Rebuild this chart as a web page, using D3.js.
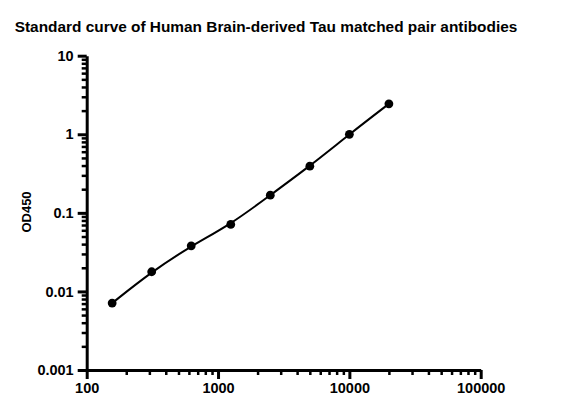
<!DOCTYPE html>
<html>
<head>
<meta charset="utf-8">
<script src="https://d3js.org/d3.v7.min.js"></script>
<style>
  body { margin:0; background:#fff; }
  svg text { font-family: "Liberation Sans", Arial, sans-serif; font-weight:bold; fill:#000; }
</style>
</head>
<body>
<div id="chart"></div>
<script>
var title = "Standard curve of Human Brain-derived Tau matched pair antibodies";
var concentrations = [156.25, 312.5, 625, 1250, 2500, 5000, 10000, 20000];
var od450 = [0.0071, 0.0178, 0.038, 0.0713, 0.168, 0.393, 1.0, 2.44];
var xTickValues = [100, 1000, 10000, 100000];
var yTickValues = [0.001, 0.01, 0.1, 1, 10];
var yLabel = "OD450";

var W = 566, H = 413;
var svg = d3.select("#chart").append("svg").attr("width", W).attr("height", H);

var x = d3.scaleLog().domain([100, 100000]).range([86.7, 480.7]);
var y = d3.scaleLog().domain([0.001, 10]).range([370, 55.7]);

function minors(lo, hi){
    var m = [];
    for (var d = lo; d < hi; d *= 10) {
        for (var k = 2; k <= 9; k++) m.push(d * k);
    }
    return m;
}

// minor ticks
svg.append("g").attr("transform", "translate(0,370)")
    .call(d3.axisBottom(x).tickValues(minors(100, 100000)).tickSize(5).tickFormat(""))
    .call(function(g){ g.select(".domain").remove(); g.selectAll("line").attr("stroke-width", 2.5); });
svg.append("g").attr("transform", "translate(86.7,0)")
    .call(d3.axisLeft(y).tickValues(minors(0.001, 10)).tickSize(5).tickFormat(""))
    .call(function(g){ g.select(".domain").remove(); g.selectAll("line").attr("stroke-width", 2.5); });

// major axes
svg.append("g").attr("transform", "translate(0,370)")
    .call(d3.axisBottom(x).tickValues(xTickValues).tickSize(9).tickSizeOuter(0).tickPadding(4).tickFormat(d3.format("d")))
    .call(function(g){
        g.select(".domain").attr("stroke-width", 3);
        g.selectAll("line").attr("stroke-width", 3);
        g.selectAll("text").attr("font-size", 14.5).attr("font-family", "Liberation Sans, Arial, sans-serif");
    });
svg.append("g").attr("transform", "translate(86.7,0)")
    .call(d3.axisLeft(y).tickValues(yTickValues).tickSize(9).tickSizeOuter(0).tickPadding(4).tickFormat(function(d){ return String(d); }))
    .call(function(g){
        g.select(".domain").attr("stroke-width", 3);
        g.selectAll("line").attr("stroke-width", 3);
        g.selectAll("text").attr("font-size", 14.5).attr("font-family", "Liberation Sans, Arial, sans-serif");
    });

var pts = concentrations.map(function(c, i){ return {x: c, y: od450[i]}; });

svg.append("path").datum(pts)
    .attr("fill", "none").attr("stroke", "#000").attr("stroke-width", 2)
    .attr("d", d3.line().x(function(d){ return x(d.x); }).y(function(d){ return y(d.y); }).curve(d3.curveBasis));

svg.selectAll(".dot").data(pts).enter().append("circle")
    .attr("class", "dot")
    .attr("cx", function(d){ return x(d.x); })
    .attr("cy", function(d){ return y(d.y); })
    .attr("r", 4.4).attr("fill", "#000");

svg.append("text").attr("x", 266).attr("y", 32).attr("text-anchor", "middle")
    .attr("font-size", 15.4).text(title);

svg.append("text").attr("transform", "translate(31,212) rotate(-90)").attr("text-anchor", "middle")
    .attr("font-size", 13).text(yLabel);
</script>
</body>
</html>
